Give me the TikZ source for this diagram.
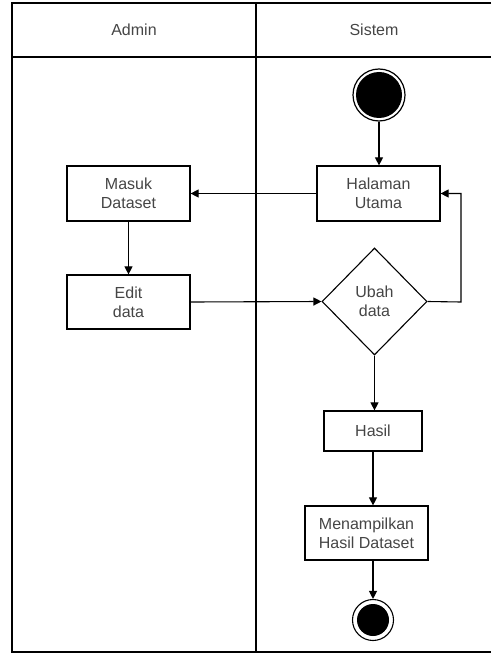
\documentclass[tikz,border=0pt]{standalone}
\usepackage{fontspec}
\setmainfont{Liberation Sans}
\usetikzlibrary{shapes.geometric,arrows.meta}
\definecolor{txt}{HTML}{454545}
\tikzset{
  every node/.style={font=\fontsize{16}{19}\selectfont, text=txt},
  actbox/.style={draw=black, line width=1.2pt, align=center, inner sep=0pt},
  decision/.style={draw=black, line width=1.1pt, diamond, align=center, inner sep=0pt, minimum width=105pt, minimum height=107pt, aspect=1},
  flow/.style={draw=black, line width=1.1pt, -{Triangle[width=8pt,length=8pt]}},
  lane/.style={draw=black, line width=1.3pt}
}
\begin{document}
\begin{tikzpicture}[x=1pt,y=-1pt]
\useasboundingbox (0,0) rectangle (491,655);
% swimlane frame
\draw[lane] (491,3) -- (12,3) -- (12,652) -- (491,652);
\draw[lane] (12,57) -- (491,57);
\draw[lane] (256,3) -- (256,652);
\node (admin) at (134,30) {Admin};
\node (sistem) at (374,30) {Sistem};

% start node
\node (start) [circle, draw=black, line width=1.2pt, fill=white, minimum size=52pt, inner sep=0pt] at (379,95) {};
\fill[black] (start.center) circle (23pt);

% activities
\node (utama) [actbox, minimum width=123pt, minimum height=55pt] at (378.5,193.5) {Halaman\\Utama};
\node (masuk) [actbox, minimum width=123pt, minimum height=55pt] at (128.5,193.5) {Masuk\\Dataset};
\node (edit) [actbox, minimum width=123pt, minimum height=54pt] at (128.5,302) {Edit\\data};
\node (ubah) [decision] at (374.5,301.5) {Ubah\\data};
\node (hasil) [actbox, minimum width=98pt, minimum height=40pt] at (373,431) {Hasil};
\node (tampil) [actbox, minimum width=123pt, minimum height=54pt] at (366.5,533) {Menampilkan\\Hasil Dataset};

% end node
\node (end) [circle, draw=black, line width=1.1pt, fill=white, minimum size=41pt, inner sep=0pt] at (373,620) {};
\fill[black] (end.center) circle (16pt);

% flows
\draw[flow] (start.south) -- (start.south |- utama.north);
\draw[flow] (utama.west) -- (masuk.east);
\draw[flow] (masuk.south) -- (edit.north);
\draw[flow] (edit.east) -- (ubah.west);
\coordinate (loop) at (461,302);
\draw[flow] (ubah.east) -- (loop) |- (utama.east);
\draw[flow] (ubah.south) -- (ubah.south |- hasil.north);
\draw[flow] (hasil.south) -- (hasil.south |- tampil.north);
\draw[flow] (tampil.south -| end.north) -- (end.north);
\end{tikzpicture}
\end{document}
